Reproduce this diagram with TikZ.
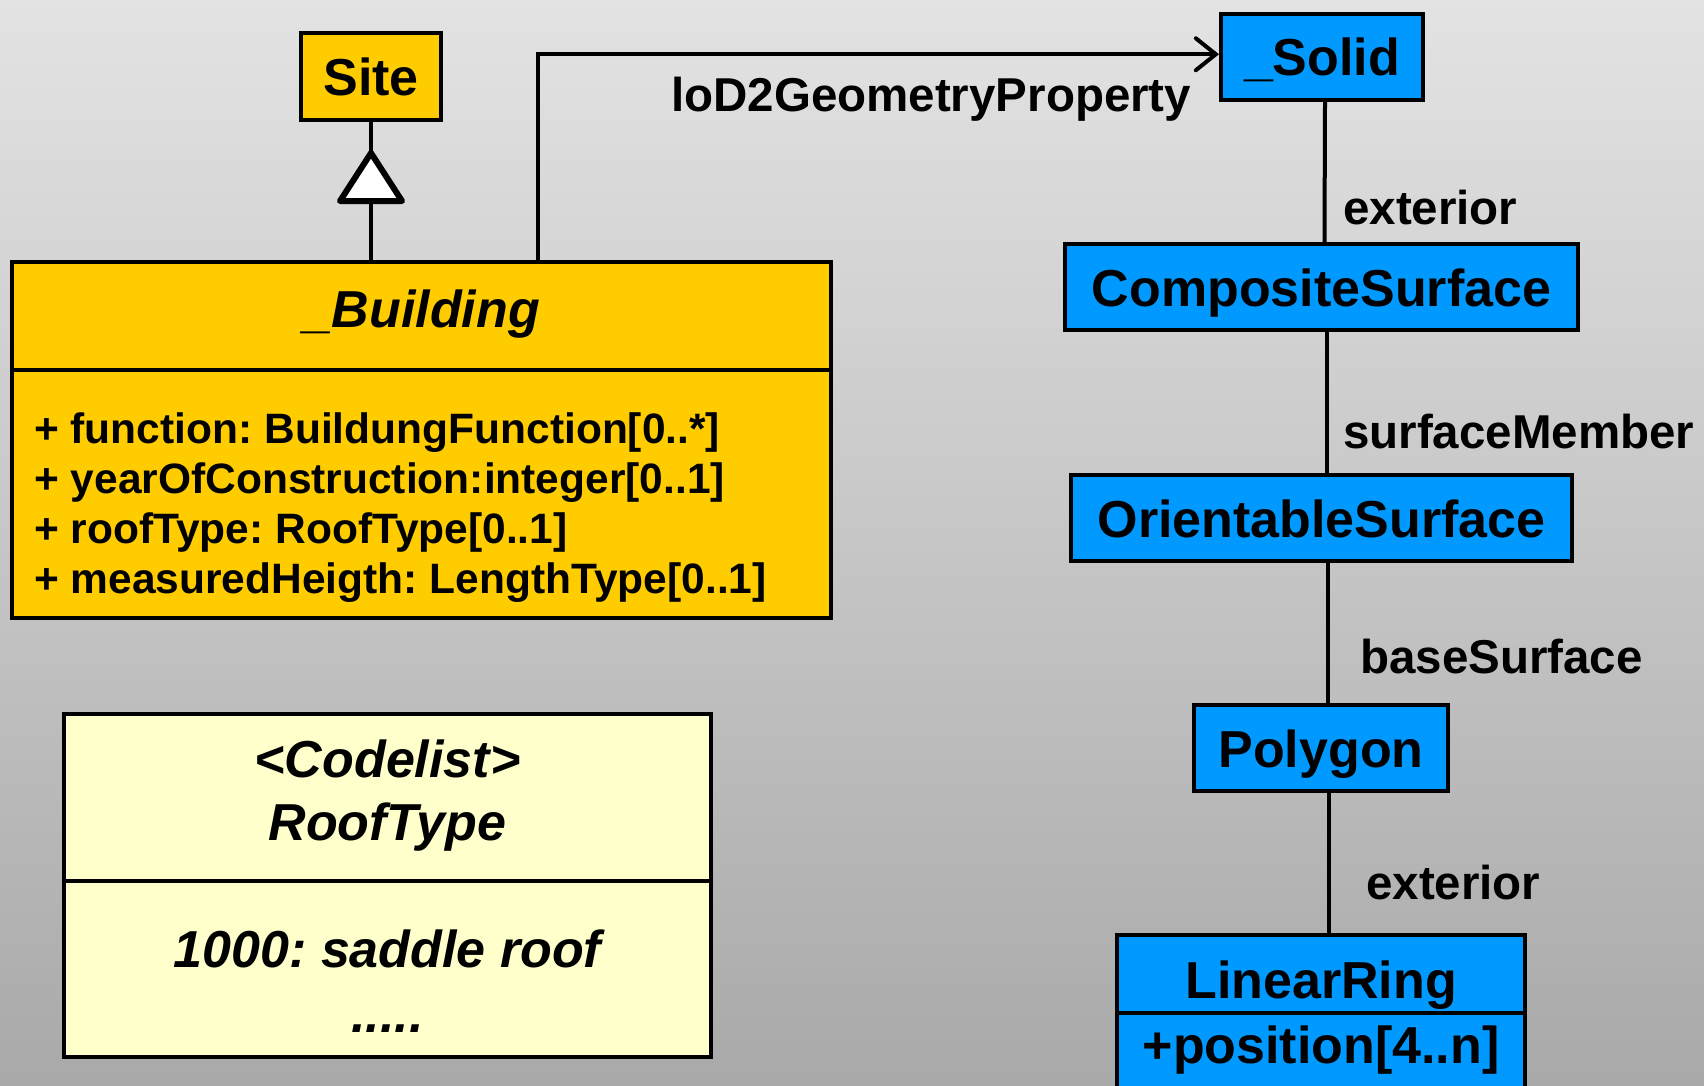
\documentclass[tikz,border=0pt]{standalone}
\usepackage{fontspec}
\setmainfont{Liberation Sans}
\usetikzlibrary{arrows.meta}
\definecolor{ufyellow}{HTML}{FFCC00}
\definecolor{ufblue}{HTML}{0099FF}
\definecolor{ufpale}{HTML}{FFFFCC}
\definecolor{bgtop}{HTML}{E3E3E3}
\definecolor{bgbot}{HTML}{A9A9A9}
\frenchspacing
\begin{document}
\begin{tikzpicture}[x=1pt,y=-1pt,
  box/.style={draw=black, line width=4pt, inner sep=0pt, text height=38pt, text depth=0pt,
    font=\fontsize{52}{60}\selectfont\bfseries},
  ybox/.style={box, fill=ufyellow},
  bbox/.style={box, fill=ufblue},
  pbox/.style={box, fill=ufpale},
  title/.style={inner sep=0pt, anchor=base, font=\fontsize{52}{60}\selectfont\bfseries},
  ititle/.style={title, font=\fontsize{52}{60}\selectfont\bfseries\itshape},
  attr/.style={inner sep=0pt, anchor=base west, font=\fontsize{42.5}{50}\selectfont\bfseries},
  lbl/.style={inner sep=0pt, anchor=base west, font=\fontsize{47.5}{55}\selectfont\bfseries},
  conn/.style={draw=black, line width=4pt}
]
\useasboundingbox (0,0) rectangle (1704,1085);
\clip (0,0) rectangle (1704,1085);
\shade[top color=bgtop, bottom color=bgbot] (0,0) rectangle (1704,1085);

% ---------- left column ----------
\node[ybox, minimum width=140pt, minimum height=87pt] (site) at (371,76.5) {Site};

\node[ybox, minimum width=819pt, minimum height=356pt] (bld) at (421.5,440) {};
\coordinate (bdiv) at (0,370);
\draw[line width=4pt] (bld.west |- bdiv) -- (bld.east |- bdiv);
\node[ititle] (bldname) at (421.5,327) {\_Building};
\node[attr] (a1) at (34,443) {+ function: BuildungFunction[0..*]};
\node[attr] (a2) at (34,493) {+ yearOfConstruction:integer[0..1]};
\node[attr] (a3) at (34,543) {+ roofType: RoofType[0..1]};
\node[attr] (a4) at (34,593) {+ measuredHeigth: LengthType[0..1]};

\node[pbox, minimum width=647pt, minimum height=343pt] (code) at (387.5,885.5) {};
\coordinate (cdiv) at (0,881);
\draw[line width=4pt] (code.west |- cdiv) -- (code.east |- cdiv);
\node[ititle] (c1) at (387.5,777) {<Codelist>};
\node[ititle] (c2) at (387.5,840) {RoofType};
\node[ititle] (c3) at (387.5,967) {1000: saddle roof};
\node[ititle] (c4) at (387.5,1032) {.....};

% generalization
\draw[conn] (bld.north -| site.south) -- (site.south);
\draw[line width=6pt, fill=white, line join=round]
  ([yshift=-31pt]site.south) -- ++(-31,48) -- ++(62,0) -- cycle;

% ---------- right column ----------
\node[bbox, minimum width=202pt, minimum height=86.5pt] (solid) at (1322,56.75) {\_Solid};
\node[bbox, minimum width=513pt, minimum height=86pt] (comp) at (1321.5,287) {CompositeSurface};
\node[bbox, minimum width=501pt, minimum height=86pt] (orient) at (1321.5,518) {OrientableSurface};
\node[bbox, minimum width=254pt, minimum height=86pt] (poly) at (1321,748) {Polygon};

\node[bbox, minimum width=408pt, minimum height=78pt] (lr) at (1321,974) {};
\node[bbox, minimum width=408pt, minimum height=100pt] (lrattr) at (1321,1063) {};
\node[title] (lrname) at (1321,998) {LinearRing};
\node[title] (lrpos) at (1321,1063) {+position[4..n]};

% association building -> solid
\draw[conn, -{Straight Barb[length=20pt, width=32pt, line cap=round]}]
  ([xshift=528pt]bld.north west) |- ([yshift=2.5pt]solid.west);
\node[lbl] (l0) at (671,111) {loD2GeometryProperty};

% chain
\draw[conn] ([xshift=3pt]solid.south) -- ([xshift=3pt]comp.north);
\node[lbl] (l1) at (1343,224) {exterior};
\draw[conn] ([xshift=5pt]comp.south) -- ([xshift=5pt]orient.north);
\node[lbl] (l2) at (1343,448) {surfaceMember};
\draw[conn] ([xshift=6.5pt]orient.south) -- ([xshift=7pt]poly.north);
\node[lbl] (l3) at (1360,673) {baseSurface};
\draw[conn] ([xshift=8pt]poly.south) -- ([xshift=8pt]lr.north);
\node[lbl] (l4) at (1366,899) {exterior};
\end{tikzpicture}
\end{document}
